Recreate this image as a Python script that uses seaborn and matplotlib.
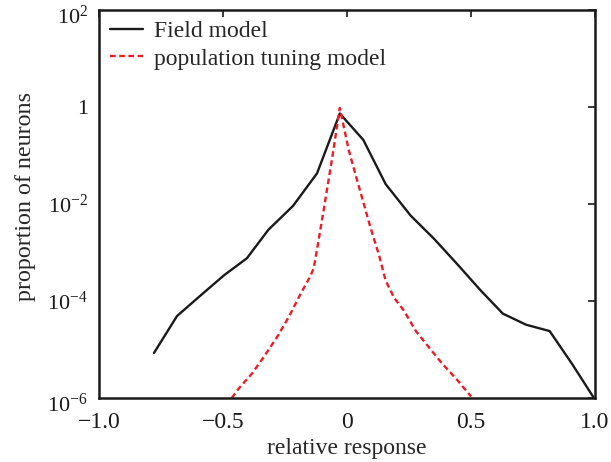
import matplotlib
matplotlib.use("Agg")
import matplotlib.pyplot as plt
import matplotlib.ticker as mticker
import matplotlib.transforms as mtransforms
import seaborn as sns

# Field model (black solid)
field_x = [-0.778, -0.685, -0.593, -0.495, -0.403, -0.316, -0.217, -0.120, -0.028,
           0.067, 0.157, 0.258, 0.353, 0.448, 0.542, 0.630, 0.724, 0.819, 0.910, 0.995]
field_y = [8.5e-6, 4.9e-5, 1.26e-4, 3.4e-4, 7.6e-4, 2.95e-3, 9.1e-3, 4.27e-2, 0.733,
           0.209, 2.57e-2, 5.75e-3, 1.9e-3, 5.6e-4, 1.62e-4, 5.5e-5, 3.24e-5, 2.4e-5, 5.0e-6, 1.05e-6]

# population tuning model (red dashed)
tuning_x = [-0.464, -0.437, -0.383, -0.336, -0.282, -0.235, -0.187, -0.147, -0.133, -0.120,
            -0.093, -0.059, -0.028, 0.008, 0.049, 0.096, 0.130, 0.157, 0.191, 0.231,
            0.279, 0.326, 0.387, 0.448, 0.502]
tuning_y = [1.0e-6, 1.55e-6, 3.16e-6, 6.9e-6, 1.78e-5, 4.57e-5, 1.38e-4, 3.24e-4, 4.8e-4, 1.15e-3,
            7.6e-3, 8.7e-2, 0.955, 0.129, 2.29e-2, 3.24e-3, 8.9e-4, 2.63e-4, 1.17e-4, 6.3e-5,
            2.4e-5, 1.2e-5, 5.0e-6, 2.29e-6, 1.07e-6]

x_ticks = [-1.0, -0.5, 0, 0.5, 1.0]
x_labels = ["\u22121.0", "\u22120.5", "0", "0.5", "1.0"]
y_ticks = [1e-6, 1e-4, 1e-2, 1, 1e2]
y_labels = ["$10^{-6}$", "$10^{-4}$", "$10^{-2}$", "1", "$10^{2}$"]

sns.set_style("white")
plt.rcParams["font.family"] = ["Liberation Serif", "DejaVu Serif"]
plt.rcParams["mathtext.fontset"] = "custom"
plt.rcParams["mathtext.rm"] = "Liberation Serif"
plt.rcParams["mathtext.it"] = "Liberation Serif:italic"

fig = plt.figure(figsize=(6.11, 4.62), dpi=100)
ax = fig.add_axes([0.1620, 0.1385, 0.8110, 0.8400])

sns.lineplot(x=field_x, y=field_y, ax=ax, color="#1a1a1a", lw=1.7,
             label="Field model", sort=False)
sns.lineplot(x=tuning_x, y=tuning_y, ax=ax, color="#ec1c24", lw=1.7,
             label="population tuning model", sort=False)
ax.lines[1].set_dashes([2.4, 1.5])

ax.set_yscale("log")
ax.set_xlim(-1.0, 1.0)
ax.set_ylim(1e-6, 1e2)
ax.set_xticks(x_ticks)
ax.set_xticklabels(x_labels)
ax.set_yticks(y_ticks)
ax.set_yticklabels(y_labels)
ax.yaxis.set_minor_locator(mticker.NullLocator())

ax.tick_params(direction="in", top=True, right=True, length=5, width=1.2,
               colors="#1a1a1a")
ax.tick_params(axis="x", labelsize=17, pad=10)
ax.tick_params(axis="y", labelsize=16, pad=8)
for sp in ax.spines.values():
    sp.set_linewidth(1.8)
    sp.set_color("#1a1a1a")

# end labels sit a little lower in the original
shift = mtransforms.ScaledTranslation(0, -5 / 100, fig.dpi_scale_trans)
ylabs = ax.get_yticklabels()
for lab in (ylabs[0], ylabs[-1]):
    lab.set_transform(lab.get_transform() + shift)

ax.set_xlabel("relative response", fontsize=17)
ax.set_ylabel("proportion of neurons", fontsize=17.3)
ax.xaxis.set_label_coords(0.5, -0.102)
ax.yaxis.set_label_coords(-0.128, 0.52)

handles, labels = ax.get_legend_handles_labels()
handles[1].set_dashes([2.4, 1.5])
leg = ax.legend(handles, labels, loc="upper left", frameon=False, fontsize=17,
                handlelength=1.4, handletextpad=0.47, labelspacing=0.26,
                borderaxespad=0.05)

fig.savefig("out.png", dpi=100)
